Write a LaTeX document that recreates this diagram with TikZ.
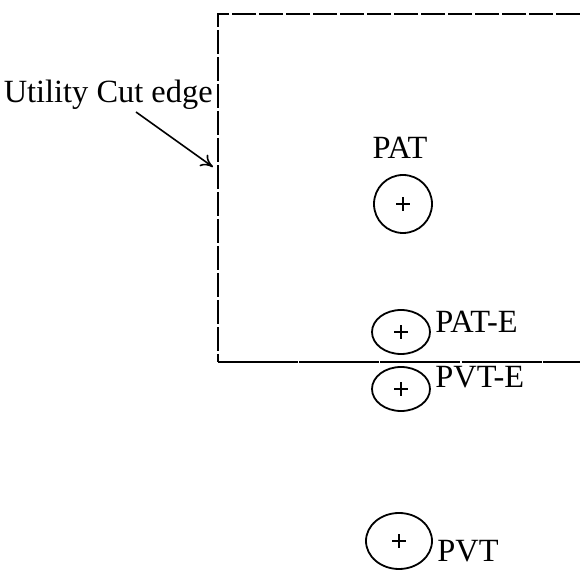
\documentclass[tikz,border=0pt]{standalone}
\usepackage{fontspec}
\setmainfont{Liberation Serif}
\usetikzlibrary{shapes.geometric,arrows.meta}
\begin{document}
\begin{tikzpicture}[x=0.5pt,y=-0.5pt,
  lbl/.style={font=\fontsize{16.2}{18}\selectfont, inner sep=0pt},
  hole/.style={draw, ellipse, line width=0.9pt, inner sep=0pt},
  edge/.style={line width=0.8pt}]
\useasboundingbox (0,0) rectangle (580,572);
% cut box
\coordinate (tl) at (218,14);
\coordinate (tr) at (580,14);
\coordinate (bl) at (218,362);
\coordinate (br) at (580,362);
\draw[edge, dash pattern=on 12pt off 1.5pt] (tr) -- (tl) -- (bl);
\draw[edge, dash pattern=on 40pt off 0.6pt] (bl) -- (br);
% label and arrow
\node[lbl, anchor=base east] (cut) at (213,103) {Utility Cut edge};
\coordinate (astart) at (136,112);
\coordinate (aend) at (213,167);
\draw[edge, -{To[length=6pt,width=7pt]}] (astart) -- (aend);
% holes
\node[hole, minimum width=29pt, minimum height=29pt] (pat) at (403,204) {};
\node[hole, minimum width=29pt, minimum height=22pt] (pate) at (401,332) {};
\node[hole, minimum width=29pt, minimum height=22pt] (pvte) at (401,389) {};
\node[hole, minimum width=33pt, minimum height=28pt] (pvt) at (399,541) {};
\foreach \n in {pat,pate,pvte,pvt}{
  \draw[line width=0.6pt] ([xshift=-3.5pt]\n.center) -- ([xshift=3.5pt]\n.center);
  \draw[line width=0.6pt] ([yshift=-3.5pt]\n.center) -- ([yshift=3.5pt]\n.center);
}
% texts
\node[lbl, anchor=base] (tpat) at (400,159) {PAT};
\node[lbl, anchor=base west] (tpate) at (435,333) {PAT-E};
\node[lbl, anchor=base west] (tpvte) at (435,388) {PVT-E};
\node[lbl, anchor=base west] (tpvt) at (437,562) {PVT};
\end{tikzpicture}
\end{document}
